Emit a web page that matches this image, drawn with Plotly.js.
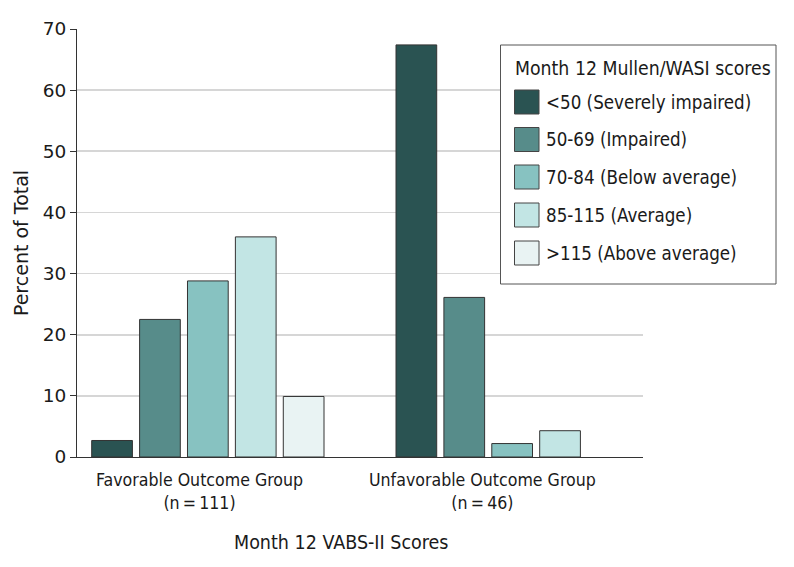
<!DOCTYPE html>
<html>
<head>
<meta charset="utf-8">
<script src="https://cdn.plot.ly/plotly-3.0.1.min.js"></script>
<style>html,body{margin:0;padding:0;background:#fff;}#chart{width:794px;height:567px;}</style>
</head>
<body>
<div id="chart"></div>
<script>
// ---- data ----
const categories = ['Favorable Outcome Group<br>(n\u2009=\u2009111)', 'Unfavorable Outcome Group<br>(n\u2009=\u200946)'];
const seriesNames = ['<50 (Severely impaired)', '50-69 (Impaired)', '70-84 (Below average)', '85-115 (Average)', '>115 (Above average)'];
const severelyImpaired = [2.7, 67.4];
const impaired = [22.5, 26.1];
const belowAverage = [28.8, 2.2];
const average = [36.0, 4.3];
const aboveAverage = [9.9, 0];
const legendTitle = 'Month 12 Mullen/WASI scores';
const xTitle = 'Month 12 VABS-II Scores';
const yTitle = 'Percent of Total';
const yTickVals = [0, 10, 20, 30, 40, 50, 60, 70];

// ---- styles ----
const colors = ['#2a5352', '#578c8a', '#87c2c1', '#c2e5e4', '#e9f3f3'];
const seriesValues = [severelyImpaired, impaired, belowAverage, average, aboveAverage];
const condensed = '"DejaVu Sans Condensed", "DejaVu Sans", sans-serif';
const regular = '"DejaVu Sans", sans-serif';

const W = 794, H = 567;
const M = {l: 77, r: 151, t: 29, b: 110};
const pw = W - M.l - M.r, ph = H - M.t - M.b;
const px = x => (x - M.l) / pw;
const py = y => (H - M.b - y) / ph;

const traces = seriesNames.map((name, i) => ({
  type: 'bar',
  name: name,
  x: categories,
  y: seriesValues[i],
  marker: {color: colors[i], line: {color: '#333333', width: seriesValues[i].map(v => v > 0 ? 1 : 0)}},
  showlegend: false,
  hoverinfo: 'x+y+name'
}));

// custom legend
const shapes = [{
  type: 'rect', xref: 'paper', yref: 'paper',
  x0: px(500.5), x1: px(776), y0: py(284), y1: py(45),
  fillcolor: '#ffffff', line: {color: '#555555', width: 1}, layer: 'above'
}];
const annotations = [{
  xref: 'paper', yref: 'paper', x: px(513), y: py(68),
  xanchor: 'left', yanchor: 'middle', showarrow: false,
  text: legendTitle, font: {family: condensed, size: 19.3, color: '#1a1a1a'}
}];
const itemY = [102, 139.5, 177, 215, 253];
seriesNames.forEach((name, i) => {
  shapes.push({
    type: 'rect', xref: 'paper', yref: 'paper',
    x0: px(514.5), x1: px(539), y0: py(itemY[i] + 12), y1: py(itemY[i] - 12),
    fillcolor: colors[i], line: {color: '#444444', width: 1}, layer: 'above'
  });
  annotations.push({
    xref: 'paper', yref: 'paper', x: px(544), y: py(itemY[i]),
    xanchor: 'left', yanchor: 'middle', showarrow: false,
    text: name.replace('<', '&lt;').replace('>', '&gt;'),
    font: {family: condensed, size: 18.6, color: '#1a1a1a'}
  });
});

// category labels (placed slightly left of group centres, as in the original)
const catShift = [-8, -30];
categories.forEach((c, i) => {
  annotations.push({
    xref: 'x', yref: 'paper', x: c, y: 0, xshift: catShift[i], yshift: -11,
    xanchor: 'center', yanchor: 'top', showarrow: false, align: 'center',
    text: c, font: {family: condensed, size: 17.6, color: '#1a1a1a'}
  });
});
annotations.push({
  xref: 'paper', yref: 'paper', x: px(341), y: py(542),
  xanchor: 'center', yanchor: 'middle', showarrow: false,
  text: xTitle, font: {family: condensed, size: 19.5, color: '#1a1a1a'}
});

const layout = {
  width: W, height: H,
  margin: M,
  paper_bgcolor: '#ffffff', plot_bgcolor: '#ffffff',
  barmode: 'group', bargap: 0.213, bargroupgap: 0.15,
  showlegend: false,
  font: {family: condensed, color: '#1a1a1a'},
  xaxis: {
    type: 'category',
    range: [-0.43, 1.43],
    showline: true, linecolor: '#333333', linewidth: 1,
    ticks: '', showticklabels: false,
    showgrid: false, zeroline: false,
    fixedrange: true
  },
  yaxis: {
    range: [0, 70],
    tickvals: yTickVals,
    showline: true, linecolor: '#333333', linewidth: 1,
    ticks: 'outside', ticklen: 6, tickcolor: '#333333',
    tickfont: {family: regular, size: 18.5, color: '#1a1a1a'},
    showgrid: true, gridcolor: '#d6d6d6', gridwidth: 1.6,
    zeroline: false,
    title: {text: yTitle, font: {family: regular, size: 19, color: '#1a1a1a'}, standoff: 9},
    fixedrange: true
  },
  shapes: shapes,
  annotations: annotations
};

Plotly.newPlot('chart', traces, layout, {displayModeBar: false, staticPlot: true});
</script>
</body>
</html>
